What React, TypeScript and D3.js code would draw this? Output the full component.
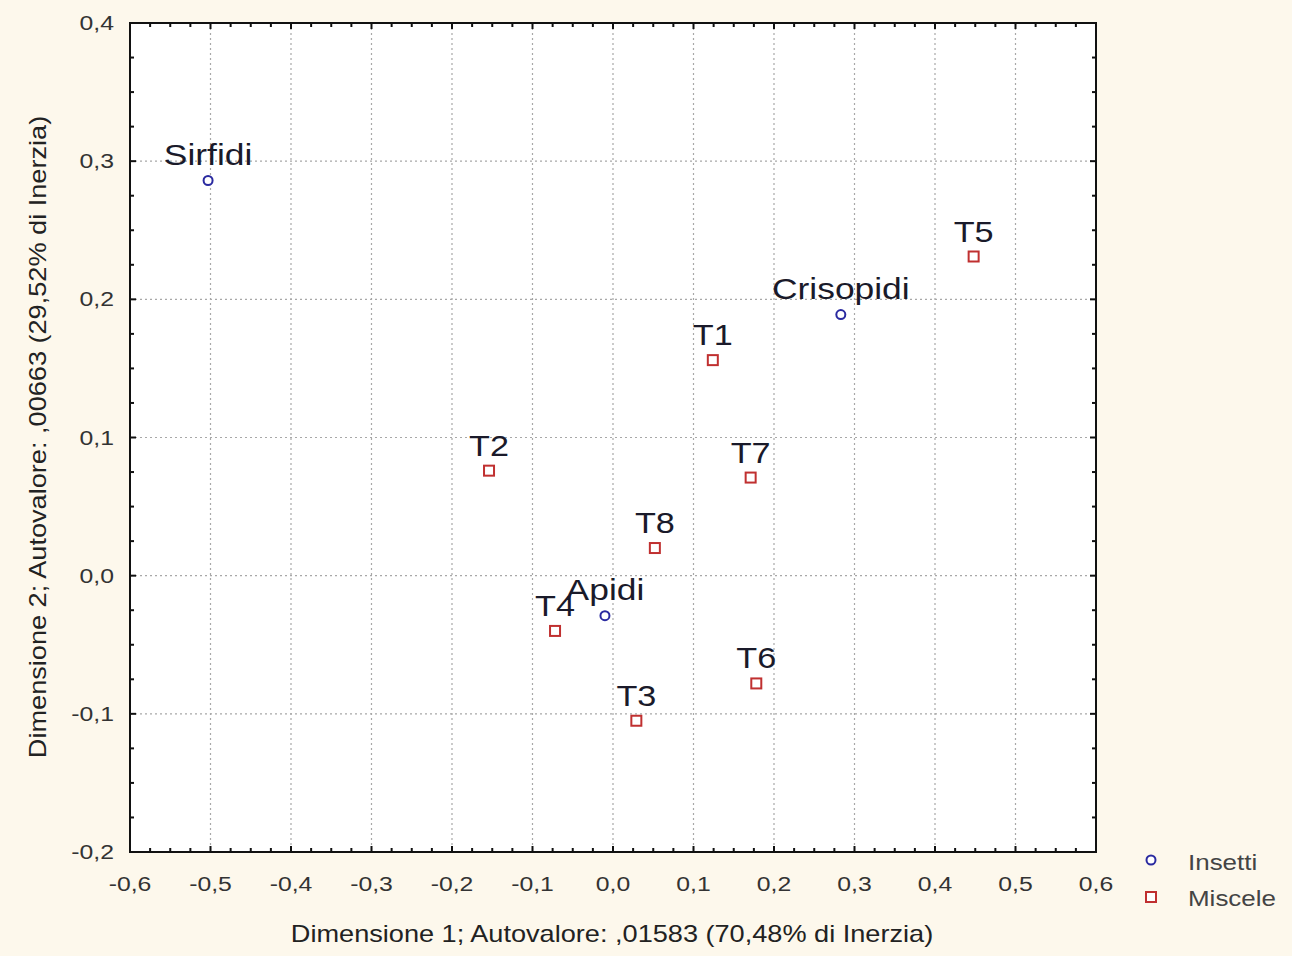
import React from "react";
import * as d3 from "d3";

const insettiNames = ["Sirfidi", "Crisopidi", "Apidi"];
const insettiX = [-0.503, 0.283, -0.010];
const insettiY = [0.286, 0.189, -0.029];

const misceleNames = ["T1", "T2", "T3", "T4", "T5", "T6", "T7", "T8"];
const misceleX = [0.124, -0.154, 0.029, -0.072, 0.448, 0.178, 0.171, 0.052];
const misceleY = [0.156, 0.076, -0.105, -0.040, 0.231, -0.078, 0.071, 0.020];

const xTicks = [-0.6, -0.5, -0.4, -0.3, -0.2, -0.1, 0.0, 0.1, 0.2, 0.3, 0.4, 0.5, 0.6];
const yTicks = [-0.2, -0.1, 0.0, 0.1, 0.2, 0.3, 0.4];

const xTitle = "Dimensione 1; Autovalore: ,01583 (70,48% di Inerzia)";
const yTitle = "Dimensione 2; Autovalore: ,00663 (29,52% di Inerzia)";
const legendLabels = ["Insetti", "Miscele"];

const W = 1292;
const H = 956;
const L = 130, R = 1096, T = 23, B = 852;
const SX = 1.18;

const fmt = (v: number) => {
  const s = Math.abs(v) < 1e-9 ? "0,0" : v.toFixed(1).replace(".", ",");
  return s;
};

function SText(props: { x: number; y: number; size: number; anchor?: string; fill?: string; children: any; rotate?: boolean }) {
  const { x, y, size, anchor = "start", fill = "#222", children, rotate } = props;
  const tr = rotate
    ? `translate(${x},${y}) rotate(-90) scale(${SX},1)`
    : `translate(${x},${y}) scale(${SX},1)`;
  return (
    <text transform={tr} fontSize={size} textAnchor={anchor} fill={fill}
      fontFamily="'Liberation Sans', Arial, sans-serif">
      {children}
    </text>
  );
}

export default function App() {
  const x = d3.scaleLinear().domain([-0.6, 0.6]).range([L, R]);
  const y = d3.scaleLinear().domain([-0.2, 0.4]).range([B, T]);
  const minorX = d3.range(-0.6, 0.6001, 0.025);
  const minorY = d3.range(-0.2, 0.4001, 0.025);

  return (
    <svg width={W} height={H} style={{ position: "absolute", left: 0, top: 0 }}>
      <rect x={0} y={0} width={W} height={H} fill="#fdf8ec" />
      <rect x={L} y={T} width={R - L} height={B - T} fill="#ffffff" />
      {/* grid */}
      {xTicks.slice(1, -1).map((t, i) => (
        <line key={"gx" + i} x1={x(t)} x2={x(t)} y1={T} y2={B} stroke="#a8a8a8" strokeWidth={1.2} strokeDasharray="2,3" />
      ))}
      {yTicks.slice(1, -1).map((t, i) => (
        <line key={"gy" + i} x1={L} x2={R} y1={y(t)} y2={y(t)} stroke="#a8a8a8" strokeWidth={1.2} strokeDasharray="2,3" />
      ))}
      {/* minor ticks */}
      {minorX.map((t, i) => (
        <g key={"mx" + i}>
          <line x1={x(t)} x2={x(t)} y1={B} y2={B - (i % 4 === 0 ? 6 : 4)} stroke="#111" strokeWidth={2} />
          <line x1={x(t)} x2={x(t)} y1={T} y2={T + (i % 4 === 0 ? 6 : 4)} stroke="#111" strokeWidth={2} />
        </g>
      ))}
      {minorY.map((t, i) => (
        <g key={"my" + i}>
          <line x1={L} x2={L + (i % 4 === 0 ? 6 : 4)} y1={y(t)} y2={y(t)} stroke="#111" strokeWidth={2} />
          <line x1={R} x2={R - (i % 4 === 0 ? 6 : 4)} y1={y(t)} y2={y(t)} stroke="#111" strokeWidth={2} />
        </g>
      ))}
      <rect x={L} y={T} width={R - L} height={B - T} fill="none" stroke="#111" strokeWidth={2} />
      {/* tick labels */}
      {xTicks.map((t, i) => (
        <SText key={"xl" + i} x={x(t)} y={891} size={21} anchor="middle" fill="#333">{fmt(t)}</SText>
      ))}
      {yTicks.map((t, i) => (
        <SText key={"yl" + i} x={114} y={y(t) + 7} size={21} anchor="end" fill="#333">{fmt(t)}</SText>
      ))}
      {/* axis titles */}
      <SText x={612} y={942} size={23} anchor="middle" fill="#222">{xTitle}</SText>
      <SText x={46} y={437} size={23} anchor="middle" fill="#222" rotate>{yTitle}</SText>
      {/* points */}
      {insettiNames.map((n, i) => (
        <g key={"in" + i}>
          <circle cx={x(insettiX[i])} cy={y(insettiY[i])} r={4.5} fill="#fff" stroke="#2a2aa0" strokeWidth={2} />
        </g>
      ))}
      {misceleNames.map((n, i) => (
        <g key={"mi" + i}>
          <rect x={x(misceleX[i]) - 5} y={y(misceleY[i]) - 5} width={10} height={10} fill="#fff" stroke="#c03030" strokeWidth={2} />
        </g>
      ))}
      {/* point labels */}
      {insettiNames.map((n, i) => (
        <SText key={"inl" + i} x={x(insettiX[i])} y={y(insettiY[i]) - 16} size={30} anchor="middle" fill="#1a1a2a">{n}</SText>
      ))}
      {misceleNames.map((n, i) => (
        <SText key={"mil" + i} x={x(misceleX[i])} y={y(misceleY[i]) - 15} size={29} anchor="middle" fill="#1a1a2a">{n}</SText>
      ))}
      {/* legend */}
      <circle cx={1151} cy={860} r={4.5} fill="#fff" stroke="#2a2aa0" strokeWidth={2} />
      <rect x={1146} y={892} width={10} height={10} fill="#fff" stroke="#c03030" strokeWidth={2} />
      <SText x={1188} y={870} size={22} fill="#444">{legendLabels[0]}</SText>
      <SText x={1188} y={906} size={22} fill="#444">{legendLabels[1]}</SText>
    </svg>
  );
}
